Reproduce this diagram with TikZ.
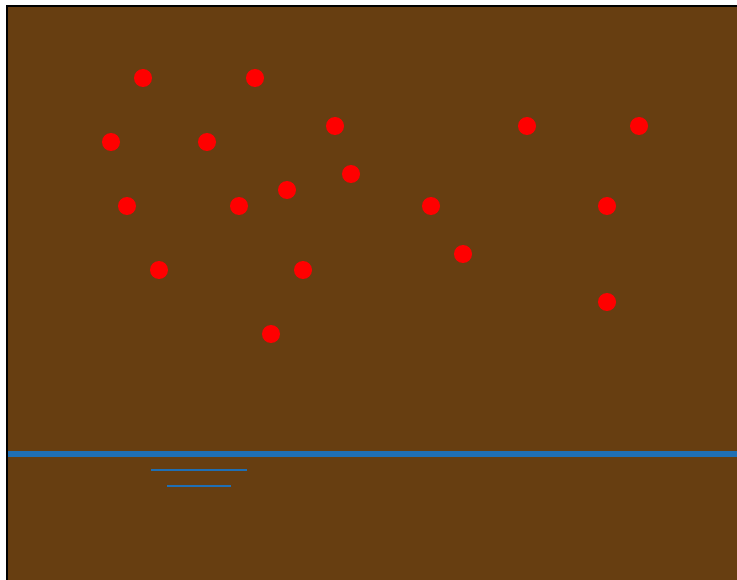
\documentclass[tikz,border=0pt]{standalone}
\definecolor{soil}{RGB}{103,62,17}
\definecolor{water}{RGB}{31,111,180}
\definecolor{dotred}{RGB}{255,0,0}
\begin{document}
\begin{tikzpicture}[x=1pt,y=-1pt,
  dot/.style={circle,fill=dotred,draw=none,minimum size=18pt,inner sep=0pt},
  mainline/.style={water,line width=6pt},
  thinline/.style={water,line width=2.5pt}]
\useasboundingbox (0,0) rectangle (737,580);
\clip (0,0) rectangle (737,580);
\draw[fill=soil,draw=black,line width=2pt] (7,6) rectangle (745,590);
\foreach \n/\x/\y in {a/143/78,b/255/78,c/111/142,d/207/142,e/335/126,f/527/126,g/639/126,h/351/174,i/287/190,j/127/206,k/239/206,l/431/206,m/607/206,n/463/254,o/159/270,p/303/270,q/607/302,r/271/334}
  \node[dot] (\n) at (\x,\y) {};
\coordinate (w1) at (8,454);
\coordinate (w2) at (737,454);
\coordinate (s1) at (151,470);
\coordinate (s2) at (247,470);
\coordinate (t1) at (167,486);
\coordinate (t2) at (231,486);
\draw[mainline] (w1) -- (w2);
\draw[thinline] (s1) -- (s2);
\draw[thinline] (t1) -- (t2);
\end{tikzpicture}
\end{document}
